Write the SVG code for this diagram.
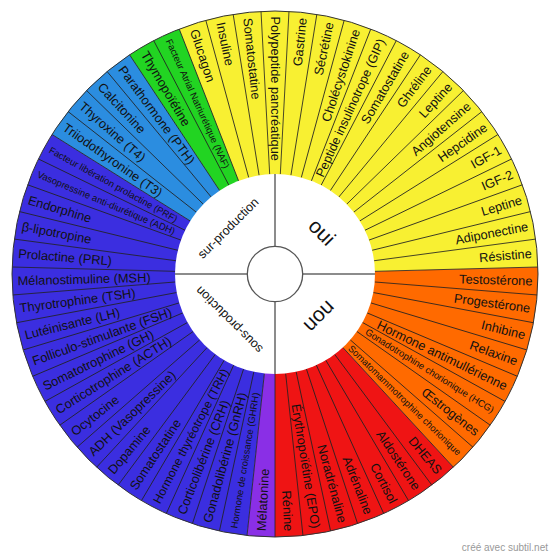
<svg xmlns="http://www.w3.org/2000/svg" width="550" height="560" viewBox="0 0 550 560">
<style>
text{font-family:"Liberation Sans",Arial,sans-serif;fill:#111}
.l{font-size:12.8px;text-anchor:start}
.r{font-size:12.8px;text-anchor:end}
.s{font-size:9.5px}
.q{text-anchor:middle}
.dv{stroke:#222;stroke-width:0.8}
.ql{stroke:#666;stroke-width:1.5}
</style>
<defs>
<line id="d" class="dv" x1="100" y1="0" x2="263" y2="0"/>
</defs>
<rect width="550" height="560" fill="#fff"/>
<g id="bands">
<path id="band-yellow" d="M275,274 L179.22,29.04 A263,263 0 0 1 537.91,267.0 Z" fill="#f8f032"/>
<path id="band-orange" d="M275,274 L537.91,267.0 A263,263 0 0 1 453.40,467.25 Z" fill="#ff6a00"/>
<path id="band-red" d="M275,274 L453.40,467.25 A263,263 0 0 1 275,537 Z" fill="#ef1414"/>
<path id="band-purple" d="M275,274 L275,537 A263,263 0 0 1 247.04,535.51 Z" fill="#8a2fe6"/>
<path id="band-blue" d="M275,274 L247.04,535.51 A263,263 0 0 1 52.04,134.50 Z" fill="#3b2ee0"/>
<path id="band-lightblue" d="M275,274 L52.04,134.50 A263,263 0 0 1 129.61,54.83 Z" fill="#2b8de0"/>
<path id="band-green" d="M275,274 L129.61,54.83 A263,263 0 0 1 179.22,29.04 Z" fill="#22d422"/>
</g>
<g id="connectors" transform="translate(275,274)">
<use href="#d" transform="rotate(90)"/><use href="#d" transform="rotate(96.102)"/><use href="#d" transform="rotate(102.203)"/><use href="#d" transform="rotate(108.305)"/><use href="#d" transform="rotate(114.407)"/><use href="#d" transform="rotate(120.508)"/><use href="#d" transform="rotate(126.610)"/><use href="#d" transform="rotate(132.712)"/><use href="#d" transform="rotate(138.814)"/><use href="#d" transform="rotate(144.915)"/><use href="#d" transform="rotate(151.017)"/><use href="#d" transform="rotate(157.119)"/><use href="#d" transform="rotate(163.220)"/><use href="#d" transform="rotate(169.322)"/><use href="#d" transform="rotate(175.424)"/><use href="#d" transform="rotate(181.525)"/><use href="#d" transform="rotate(187.627)"/><use href="#d" transform="rotate(193.729)"/><use href="#d" transform="rotate(199.831)"/><use href="#d" transform="rotate(205.932)"/><use href="#d" transform="rotate(212.034)"/><use href="#d" transform="rotate(218.136)"/><use href="#d" transform="rotate(224.237)"/><use href="#d" transform="rotate(230.339)"/><use href="#d" transform="rotate(236.441)"/><use href="#d" transform="rotate(242.542)"/><use href="#d" transform="rotate(248.644)"/><use href="#d" transform="rotate(254.746)"/><use href="#d" transform="rotate(260.847)"/><use href="#d" transform="rotate(266.949)"/><use href="#d" transform="rotate(273.051)"/><use href="#d" transform="rotate(279.153)"/><use href="#d" transform="rotate(285.254)"/><use href="#d" transform="rotate(291.356)"/><use href="#d" transform="rotate(297.458)"/><use href="#d" transform="rotate(303.559)"/><use href="#d" transform="rotate(309.661)"/><use href="#d" transform="rotate(315.763)"/><use href="#d" transform="rotate(321.864)"/><use href="#d" transform="rotate(327.966)"/><use href="#d" transform="rotate(334.068)"/><use href="#d" transform="rotate(340.169)"/><use href="#d" transform="rotate(346.271)"/><use href="#d" transform="rotate(352.373)"/><use href="#d" transform="rotate(358.475)"/><use href="#d" transform="rotate(364.576)"/><use href="#d" transform="rotate(370.678)"/><use href="#d" transform="rotate(376.780)"/><use href="#d" transform="rotate(382.881)"/><use href="#d" transform="rotate(388.983)"/><use href="#d" transform="rotate(395.085)"/><use href="#d" transform="rotate(401.186)"/><use href="#d" transform="rotate(407.288)"/><use href="#d" transform="rotate(413.390)"/><use href="#d" transform="rotate(419.492)"/><use href="#d" transform="rotate(425.593)"/><use href="#d" transform="rotate(431.695)"/><use href="#d" transform="rotate(437.797)"/><use href="#d" transform="rotate(443.898)"/>
</g>
<g id="labels" transform="translate(275,274)">
<g id="n00"><text class="l" transform="rotate(-86.949)" x="-257.5" dy=".35em">Mélatonine</text></g>
<g id="n01"><text class="l s" transform="rotate(-80.847)" x="-257.5" dy=".35em">Hormone de croissance (GHRH)</text></g>
<g id="n02"><text class="l" transform="rotate(-74.746)" x="-257.5" dy=".35em">Gonadolibérine (GnRH)</text></g>
<g id="n03"><text class="l" transform="rotate(-68.644)" x="-257.5" dy=".35em">Corticolibérine (CRH)</text></g>
<g id="n04"><text class="l" style="font-size:12.05px" transform="rotate(-62.542)" x="-257.5" dy=".35em">Hormone thyréotrope (TRH)</text></g>
<g id="n05"><text class="l" transform="rotate(-56.441)" x="-257.5" dy=".35em">Somatostatine</text></g>
<g id="n06"><text class="l" transform="rotate(-50.339)" x="-257.5" dy=".35em">Dopamine</text></g>
<g id="n07"><text class="l" transform="rotate(-44.237)" x="-257.5" dy=".35em">ADH (Vasopressine)</text></g>
<g id="n08"><text class="l" transform="rotate(-38.136)" x="-257.5" dy=".35em">Ocytocine</text></g>
<g id="n09"><text class="l" transform="rotate(-32.034)" x="-257.5" dy=".35em">Corticotrophine (ACTH)</text></g>
<g id="n10"><text class="l" transform="rotate(-25.932)" x="-257.5" dy=".35em">Somatotrophine (GH)</text></g>
<g id="n11"><text class="l" transform="rotate(-19.831)" x="-257.5" dy=".35em">Folliculo-stimulante (FSH)</text></g>
<g id="n12"><text class="l" transform="rotate(-13.729)" x="-257.5" dy=".35em">Lutéinisante (LH)</text></g>
<g id="n13"><text class="l" transform="rotate(-7.627)" x="-257.5" dy=".35em">Thyrotrophine (TSH)</text></g>
<g id="n14"><text class="l" transform="rotate(-1.525)" x="-257.5" dy=".35em">Mélanostimuline (MSH)</text></g>
<g id="n15"><text class="l" transform="rotate(4.576)" x="-257.5" dy=".35em">Prolactine (PRL)</text></g>
<g id="n16"><text class="l" transform="rotate(10.678)" x="-257.5" dy=".35em">β-lipotropine</text></g>
<g id="n17"><text class="l" transform="rotate(16.780)" x="-257.5" dy=".35em">Endorphine</text></g>
<g id="n18"><text class="l s" transform="rotate(22.881)" x="-257.5" dy=".35em">Vasopressine anti-diurétique (ADH)</text></g>
<g id="n19"><text class="l s" transform="rotate(28.983)" x="-257.5" dy=".35em">Facteur libération prolactine (PRF)</text></g>
<g id="n20"><text class="l" transform="rotate(35.085)" x="-257.5" dy=".35em">Triiodothyronine (T3)</text></g>
<g id="n21"><text class="l" transform="rotate(41.186)" x="-257.5" dy=".35em">Thyroxine (T4)</text></g>
<g id="n22"><text class="l" transform="rotate(47.288)" x="-257.5" dy=".35em">Calcitonine</text></g>
<g id="n23"><text class="l" transform="rotate(53.390)" x="-257.5" dy=".35em">Parathormone (PTH)</text></g>
<g id="n24"><text class="l" transform="rotate(59.492)" x="-257.5" dy=".35em">Thymopoïétine</text></g>
<g id="n25"><text class="l s" transform="rotate(65.593)" x="-257.5" dy=".35em">Facteur Atrial Natriurétique (NAF)</text></g>
<g id="n26"><text class="l" transform="rotate(71.695)" x="-257.5" dy=".35em">Glucagon</text></g>
<g id="n27"><text class="l" transform="rotate(77.797)" x="-257.5" dy=".35em">Insuline</text></g>
<g id="n28"><text class="l" transform="rotate(83.898)" x="-257.5" dy=".35em">Somatostatine</text></g>
<g id="n29"><text class="l" transform="rotate(90)" x="-257.5" dy=".35em">Polypeptide pancréatique</text></g>
<g id="n30"><text class="r" transform="rotate(-83.898)" x="257.5" dy=".35em">Gastrine</text></g>
<g id="n31"><text class="r" transform="rotate(-77.797)" x="257.5" dy=".35em">Sécrétine</text></g>
<g id="n32"><text class="r" transform="rotate(-71.695)" x="257.5" dy=".35em">Cholécystokinine</text></g>
<g id="n33"><text class="r" style="font-size:12.5px" transform="rotate(-65.593)" x="257.5" dy=".35em">Peptide insulinotrope (GIP)</text></g>
<g id="n34"><text class="r" transform="rotate(-59.492)" x="257.5" dy=".35em">Somatostatine</text></g>
<g id="n35"><text class="r" transform="rotate(-53.390)" x="257.5" dy=".35em">Ghréline</text></g>
<g id="n36"><text class="r" transform="rotate(-47.288)" x="257.5" dy=".35em">Leptine</text></g>
<g id="n37"><text class="r" transform="rotate(-41.186)" x="257.5" dy=".35em">Angiotensine</text></g>
<g id="n38"><text class="r" transform="rotate(-35.085)" x="257.5" dy=".35em">Hepcidine</text></g>
<g id="n39"><text class="r" transform="rotate(-28.983)" x="257.5" dy=".35em">IGF-1</text></g>
<g id="n40"><text class="r" transform="rotate(-22.881)" x="257.5" dy=".35em">IGF-2</text></g>
<g id="n41"><text class="r" transform="rotate(-16.780)" x="257.5" dy=".35em">Leptine</text></g>
<g id="n42"><text class="r" transform="rotate(-10.678)" x="257.5" dy=".35em">Adiponectine</text></g>
<g id="n43"><text class="r" transform="rotate(-4.576)" x="257.5" dy=".35em">Résistine</text></g>
<g id="n44"><text class="r" transform="rotate(1.525)" x="257.5" dy=".35em">Testostérone</text></g>
<g id="n45"><text class="r" transform="rotate(7.627)" x="257.5" dy=".35em">Progestérone</text></g>
<g id="n46"><text class="r" transform="rotate(13.729)" x="257.5" dy=".35em">Inhibine</text></g>
<g id="n47"><text class="r" transform="rotate(19.831)" x="257.5" dy=".35em">Relaxine</text></g>
<g id="n48"><text class="r" transform="rotate(25.932)" x="257.5" dy=".35em">Hormone antimullérienne</text></g>
<g id="n49"><text class="r s" transform="rotate(32.034)" x="257.5" dy=".35em">Gonadotrophine chorionique (HCG)</text></g>
<g id="n50"><text class="r" transform="rotate(38.136)" x="257.5" dy=".35em">Œstrogènes</text></g>
<g id="n51"><text class="r s" transform="rotate(44.237)" x="257.5" dy=".35em">Somatomammotrophine chorionique</text></g>
<g id="n52"><text class="r" transform="rotate(50.339)" x="257.5" dy=".35em">DHEAS</text></g>
<g id="n53"><text class="r" transform="rotate(56.441)" x="257.5" dy=".35em">Aldostérone</text></g>
<g id="n54"><text class="r" transform="rotate(62.542)" x="257.5" dy=".35em">Cortisol</text></g>
<g id="n55"><text class="r" transform="rotate(68.644)" x="257.5" dy=".35em">Adrénaline</text></g>
<g id="n56"><text class="r" transform="rotate(74.746)" x="257.5" dy=".35em">Noradrénaline</text></g>
<g id="n57"><text class="r" transform="rotate(80.847)" x="257.5" dy=".35em">Érythropoïétine (EPO)</text></g>
<g id="n58"><text class="r" transform="rotate(86.949)" x="257.5" dy=".35em">Rénine</text></g>
</g>
<circle id="rim" cx="275" cy="274" r="263" fill="none" stroke="#333" stroke-width="1"/>
<g id="hub" transform="translate(275,274)">
<circle r="100" fill="#fff"/>
<line class="ql" x1="0" y1="-100" x2="0" y2="-28"/>
<line class="ql" x1="0" y1="28" x2="0" y2="100"/>
<line class="ql" x1="-100" y1="0" x2="-28" y2="0"/>
<line class="ql" x1="28" y1="0" x2="100" y2="0"/>
<circle r="27.7" fill="#fff" stroke="#555" stroke-width="1.3"/>
<g id="q-sur"><text class="q" style="font-size:12.5px" transform="translate(-47,-46) rotate(-45)" dy=".35em">sur-production</text></g>
<g id="q-oui"><text class="q" style="font-size:21px" transform="translate(47,-42) rotate(45)" dy=".35em">oui</text></g>
<g id="q-non"><text class="q" style="font-size:21px" transform="translate(45,43) rotate(135)" dy=".35em">non</text></g>
<g id="q-sous"><text class="q" style="font-size:12.5px" transform="translate(-46,46) rotate(-135)" dy=".35em">sous-production</text></g>
</g>
<text x="548" y="551" style="font-size:10px;fill:#999;text-anchor:end">créé avec subtil.net</text>
</svg>
